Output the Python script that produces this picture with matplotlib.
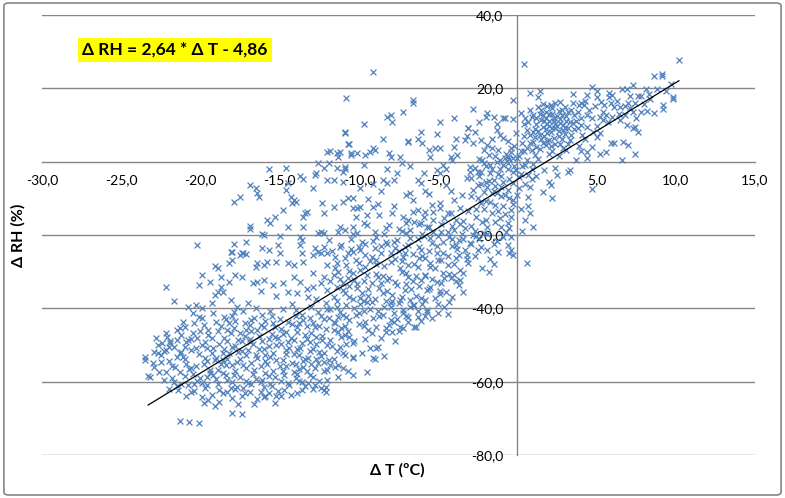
import numpy as np
import matplotlib
matplotlib.use("Agg")
import matplotlib.pyplot as plt
from matplotlib.patches import FancyBboxPatch

plt.rcParams['font.family'] = ['Lato', 'DejaVu Sans']

# trend line from the chart label
slope = 2.64
intercept = -4.86
trend_range = [-23.3, 10.2]

# points (delta T, delta RH), by region
pts_low_left = [
    (-23.5, -54.1), (-23.5, -53.3), (-23.3, -58.5), (-22.9, -51.9), (-22.7, -52.2), (-22.7, -50.0),
    (-22.4, -49.5), (-22.1, -47.8), (-22.2, -51.4), (-22.9, -56.0), (-22.6, -57.4), (-22.2, -57.4),
    (-21.7, -50.5), (-21.5, -53.3), (-21.6, -56.0), (-21.3, -52.2), (-21.1, -53.3), (-21.5, -46.0),
    (-21.3, -45.3), (-21.1, -43.7), (-22.2, -34.3), (-21.7, -38.1), (-23.2, -58.7), (-22.2, -46.8),
    (-21.9, -49.5), (-21.4, -62.3), (-21.3, -70.8), (-23.0, -55.0), (-22.5, -54.5), (-21.8, -59.0),
    (-21.2, -60.5), (-22.0, -62.0), (-21.5, -48.5), (-22.8, -48.0),
    (-20.8, -39.6), (-20.3, -39.1), (-19.9, -40.0), (-20.5, -41.3), (-19.9, -42.7), (-19.3, -38.6),
    (-19.1, -36.4), (-18.6, -35.5), (-18.1, -37.7), (-20.1, -33.7), (-19.4, -32.8), (-18.9, -35.5),
    (-18.7, -34.3), (-19.9, -30.9), (-19.1, -28.5), (-18.9, -29.0), (-18.7, -31.4), (-18.2, -32.8),
    (-18.2, -27.7), (-18.0, -26.8), (-18.1, -24.6), (-20.2, -22.7),
    (-20.8, -48.6), (-21.0, -50.5), (-20.5, -46.8), (-20.6, -51.4), (-20.1, -71.3), (-19.8, -65.8),
    (-18.8, -65.5), (-18.0, -68.5), (-20.7, -71.0),
    (-19.8, -44.5), (-19.5, -47.2), (-19.2, -50.8), (-18.9, -46.1), (-18.6, -52.3), (-18.3, -48.9),
    (-19.7, -53.6), (-19.4, -56.9), (-19.0, -59.4), (-18.7, -55.2), (-18.4, -58.1), (-18.1, -61.7),
    (-19.6, -61.0), (-19.3, -63.5), (-18.8, -62.4), (-20.3, -55.8), (-20.0, -58.9), (-20.4, -60.7),
    (-20.6, -62.9), (-19.9, -50.1), (-18.2, -44.0), (-18.5, -42.3), (-20.2, -48.0), (-19.1, -54.0),
    (-18.0, -50.6), (-18.3, -53.9), (-20.7, -56.6), (-19.5, -65.0),
]

pts_mid_left = [
    (-17.7, -39.6), (-17.9, -41.0), (-17.4, -31.4), (-17.8, -30.9), (-17.5, -25.5), (-17.3, -25.0),
    (-17.1, -25.2), (-16.5, -28.7), (-16.4, -27.7), (-16.0, -28.2), (-16.7, -33.1), (-16.4, -32.8),
    (-16.0, -32.3), (-15.8, -27.4), (-15.2, -27.4), (-15.0, -25.0), (-17.9, -22.4), (-18.0, -24.6),
    (-17.4, -24.9), (-17.1, -21.9), (-16.1, -23.5), (-15.7, -24.1), (-15.1, -22.7), (-16.9, -17.6),
    (-16.9, -18.4), (-16.0, -20.0), (-16.1, -19.7), (-15.0, -20.3), (-17.9, -11.0), (-17.5, -9.6),
    (-16.9, -6.4), (-16.5, -7.2), (-16.3, -9.6), (-16.4, -8.6), (-15.8, -15.9), (-15.6, -16.8),
    (-15.3, -15.1), (-15.7, -2.0),
    (-17.8, -43.5), (-17.5, -46.8), (-17.2, -44.1), (-16.9, -49.3), (-16.6, -42.7), (-16.3, -47.5),
    (-16.0, -45.0), (-15.7, -50.2), (-15.4, -43.9), (-15.1, -48.1), (-17.6, -52.0), (-17.3, -55.4),
    (-17.0, -51.3), (-16.7, -57.8), (-16.4, -53.5), (-16.1, -59.6), (-15.8, -55.1), (-15.5, -61.3),
    (-15.2, -54.2), (-17.9, -58.3), (-17.7, -61.4), (-17.2, -63.1), (-16.8, -60.5), (-16.2, -62.7),
    (-15.9, -64.0), (-15.3, -58.8), (-17.4, -49.0), (-16.5, -39.8), (-15.6, -40.6), (-17.0, -38.5),
    (-16.0, -64.2), (-15.3, -65.8), (-17.4, -68.8), (-16.6, -66.0), (-15.9, -52.7), (-16.8, -46.2),
    (-15.5, -47.0), (-17.1, -59.9), (-15.2, -36.5), (-16.2, -35.2), (-15.4, -33.7),
    (-14.6, -1.7), (-13.7, -3.9), (-13.5, -4.7), (-14.5, -5.8), (-14.6, -7.7), (-12.9, -7.2),
    (-14.3, -9.6), (-14.1, -10.5), (-14.2, -11.3), (-14.0, -11.0), (-14.8, -13.1), (-13.4, -14.0),
    (-13.5, -15.1), (-13.3, -13.7), (-14.5, -17.9), (-13.5, -17.9), (-12.3, -11.3), (-12.2, -14.0),
    (-12.6, -0.3), (-12.2, -1.7), (-12.8, -3.6), (-12.7, -3.1), (-12.0, -5.0), (-12.6, -19.5),
    (-12.4, -19.2), (-12.2, -19.5), (-13.7, -20.5), (-13.6, -21.3), (-13.7, -22.7), (-13.6, -24.9),
    (-12.8, -23.5), (-12.6, -24.6), (-12.2, -23.3), (-12.0, -24.9), (-13.5, -27.4), (-14.5, -27.7),
    (-14.1, -28.2), (-14.8, -33.1), (-13.7, -32.8), (-12.9, -25.5), (-12.4, -25.0), (-12.9, -30.4),
    (-12.2, -31.4), (-13.3, -34.6), (-14.5, -35.5), (-13.9, -35.8), (-12.9, -34.3), (-12.4, -33.1),
    (-12.0, -35.0), (-12.1, -38.6), (-14.1, -31.4),
    (-14.8, -40.2), (-14.5, -43.6), (-14.2, -38.9), (-13.9, -46.5), (-13.6, -41.7), (-13.3, -44.8),
    (-13.0, -39.5), (-12.7, -47.9), (-12.4, -42.2), (-12.1, -45.6), (-14.9, -49.8), (-14.6, -52.5),
    (-14.3, -48.0), (-14.0, -55.2), (-13.7, -50.9), (-13.4, -53.7), (-13.1, -49.2), (-12.8, -56.4),
    (-12.5, -51.8), (-12.2, -54.6), (-14.7, -58.1), (-14.4, -61.0), (-14.1, -57.3), (-13.8, -59.8),
    (-13.5, -56.0), (-13.2, -60.4), (-12.9, -58.6), (-12.6, -55.0), (-13.6, -62.3), (-12.4, -61.7),
    (-12.1, -62.8), (-14.9, -64.0), (-12.0, -40.3), (-13.2, -36.8), (-14.0, -42.0), (-12.7, -37.5),
    (-12.3, -48.7), (-13.9, -51.2), (-14.6, -46.4), (-12.9, -44.0), (-13.4, -47.3),
]

pts_middle = [
    (-10.8, 17.3), (-10.9, 8.1), (-10.6, 4.8), (-12.0, 2.6), (-11.8, 2.9), (-11.4, 2.4), (-11.3, 1.3),
    (-11.2, 2.6), (-10.5, 1.8), (-10.1, 2.4), (-10.7, 4.8), (-10.5, 2.4), (-9.6, 1.8), (-9.7, 10.3),
    (-10.9, 7.8), (-11.9, -0.3), (-11.4, -1.7), (-10.9, -1.5), (-11.0, -2.8), (-10.9, -2.0),
    (-9.7, -0.9), (-11.6, -5.0), (-11.0, -5.5), (-10.4, -9.9), (-10.1, -12.6), (-9.9, -12.3),
    (-9.1, -12.3), (-9.5, -14.6), (-9.7, -16.8), (-11.6, -12.3), (-11.0, -11.0), (-10.7, -9.9),
    (-10.4, -12.6), (-11.2, -17.9), (-10.9, -18.6), (-10.4, -17.9), (-10.1, -19.5), (-11.2, -23.3),
    (-10.7, -24.9), (-10.4, -24.6), (-9.9, -24.1), (-11.4, -27.7), (-12.0, -28.2), (-11.6, -30.9),
    (-11.4, -34.3), (-11.6, -36.9), (-11.4, -39.6), (-9.1, -6.0), (-9.3, 2.6), (-9.0, 3.2), (-9.1, 3.7),
    (-11.9, -21.5), (-11.5, -26.0), (-11.1, -22.8), (-10.8, -28.3), (-10.5, -21.0), (-10.2, -26.9),
    (-9.9, -29.5), (-9.6, -22.4), (-9.3, -27.1), (-11.8, -32.6), (-11.3, -30.2), (-11.0, -35.1),
    (-10.7, -31.8), (-10.4, -37.5), (-10.1, -33.3), (-9.8, -35.9), (-9.5, -31.0), (-9.2, -38.2),
    (-11.9, -42.5), (-11.6, -45.8), (-11.2, -41.0), (-10.9, -47.3), (-10.6, -43.1), (-10.3, -48.8),
    (-10.0, -44.4), (-9.7, -40.7), (-9.4, -46.0), (-11.7, -50.3), (-11.3, -55.4), (-11.0, -52.1),
    (-10.7, -57.0), (-10.4, -49.5), (-10.4, -53.3), (-10.4, -53.6), (-10.4, -58.2), (-11.0, -56.3),
    (-11.3, -58.7), (-11.8, -55.4), (-12.0, -59.6), (-12.2, -62.3), (-12.1, -61.5), (-9.8, -52.2),
    (-9.5, -57.4), (-9.3, -50.8), (-9.1, -53.6), (-8.8, -50.5), (-9.0, -53.8), (-8.9, -50.8),
    (-9.6, -48.4), (-9.2, -46.8), (-11.5, -44.0), (-10.8, -39.2), (-10.2, -41.9), (-9.6, -43.6),
    (-11.1, -47.9), (-9.9, -38.8), (-11.7, -24.4), (-10.6, -33.9), (-9.4, -34.7), (-10.0, -23.2),
    (-11.3, -19.2),
    (-9.1, 24.4), (-8.0, 12.7), (-8.2, 12.2), (-7.9, 10.8), (-7.2, 13.5), (-6.6, 16.8), (-6.6, 15.9),
    (-8.5, 6.2), (-6.1, 8.1), (-6.3, 6.2), (-6.0, 5.1), (-6.9, 5.6), (-6.9, 5.4), (-8.1, 2.4),
    (-8.0, 1.3), (-8.2, -2.0), (-7.4, 1.3), (-7.3, -0.3), (-8.5, -5.0), (-7.8, -5.0), (-6.3, -5.0),
    (-6.1, -5.8), (-6.8, -8.6), (-6.6, -10.5), (-7.2, -15.1), (-6.9, -15.9), (-6.6, -13.7),
    (-8.6, -8.0), (-7.6, -3.1), (-8.8, -11.5), (-7.9, -14.0), (-8.3, -18.0), (-7.0, -19.5),
    (-6.2, -17.0),
    (-8.9, -20.5), (-8.6, -24.8), (-8.3, -21.9), (-8.0, -27.4), (-7.7, -23.6), (-7.4, -29.1),
    (-7.1, -25.0), (-6.8, -20.7), (-6.5, -27.8), (-6.2, -23.3), (-8.8, -31.5), (-8.5, -35.8),
    (-8.2, -32.2), (-7.9, -38.0), (-7.6, -33.6), (-7.3, -36.9), (-7.0, -30.4), (-6.7, -34.8),
    (-6.4, -31.1), (-6.1, -37.3), (-8.7, -42.1), (-8.4, -39.7), (-8.1, -44.6), (-7.8, -41.3),
    (-7.5, -46.2), (-7.2, -40.5), (-6.9, -43.8), (-6.6, -39.0), (-6.3, -42.4), (-8.3, -45.4),
    (-7.4, -45.1), (-6.4, -45.1), (-7.4, -37.8), (-8.0, -39.6), (-7.9, -46.5), (-8.3, -46.5),
    (-6.5, -45.1), (-6.9, -42.4), (-7.2, -45.4), (-8.6, -48.2), (-8.0, -43.2), (-6.8, -39.6),
    (-6.3, -28.7), (-6.1, -32.3), (-7.7, -49.0), (-8.4, -53.0), (-6.0, -25.6), (-8.9, -28.0),
    (-7.5, -18.3),
    (-4.9, 10.8), (-4.0, 11.9), (-5.1, 7.5), (-5.2, 3.7), (-4.9, 3.7), (-3.9, 6.2), (-3.3, 5.9),
    (-4.0, 4.0), (-5.6, 3.2), (-5.5, 1.3), (-4.2, 1.3), (-4.1, 0.5), (-4.7, -0.9), (-5.1, -2.3),
    (-4.9, -3.1), (-3.0, -1.5), (-3.0, -2.8), (-5.3, -13.7), (-4.9, -12.6), (-5.4, -11.8),
    (-5.9, -15.1), (-6.1, -16.8), (-5.7, -17.9), (-4.0, -10.4), (-4.2, -14.0), (-3.9, -15.9),
    (-3.1, 9.2), (-3.2, 7.0), (-4.5, -6.5), (-5.8, -8.0), (-3.5, -9.0),
    (-5.9, -20.2), (-5.6, -24.5), (-5.3, -19.1), (-5.0, -26.7), (-4.7, -21.8), (-4.4, -28.2),
    (-4.1, -17.6), (-3.8, -23.9), (-3.5, -19.8), (-3.2, -25.4), (-5.8, -30.8), (-5.5, -34.3),
    (-5.2, -29.0), (-4.9, -36.1), (-4.6, -31.7), (-4.3, -38.4), (-4.0, -30.9), (-3.7, -33.5),
    (-3.4, -30.4), (-3.1, -27.6), (-5.7, -41.0), (-5.7, -35.0), (-4.5, -35.5), (-4.2, -31.7),
    (-3.4, -35.5), (-3.7, -21.3), (-3.0, -22.2), (-5.8, -37.8), (-5.0, -41.3), (-5.8, -42.0),
    (-5.3, -16.0), (-4.6, -15.3), (-3.9, -26.2), (-3.3, -18.0), (-5.5, -27.5), (-4.8, -33.2),
    (-4.1, -23.0), (-3.6, -29.5), (-5.1, -22.9), (-4.3, -20.5),
]

pts_upper_right = [
    (-2.8, 14.3), (-1.9, 13.3), (-1.5, 12.2), (-2.0, 12.2), (-0.8, 11.9), (-0.3, 11.6), (-0.9, 11.9),
    (-2.8, 5.1), (-2.7, 8.1), (-3.1, 9.2), (-1.9, 4.5), (-1.6, 3.7), (-2.1, 3.2), (-1.3, 8.6),
    (-1.1, 7.3), (-1.1, 0.5), (-0.6, -0.3), (-0.25, 1.0), (-0.4, 2.6), (-2.5, -2.8), (-2.3, -2.8),
    (-2.1, -0.3), (-1.7, -0.9), (-0.25, 16.8), (-2.8, -7.7), (-2.5, -9.9), (-2.3, -11.3),
    (-1.9, -6.9), (-1.3, -8.6), (-1.5, -5.0), (-0.6, -7.7), (-0.25, -10.4), (-0.4, -13.1),
    (-0.6, -16.8), (-0.4, -24.1), (-0.25, -25.5), (-2.3, -23.3), (-1.9, -24.1), (-1.5, -27.9),
    (-1.7, -26.6), (-0.6, -22.7), (-0.5, -24.9), (-2.5, -24.1),
    (-2.9, -4.5), (-2.6, -13.0), (-2.3, -6.0), (-2.0, -15.8), (-1.7, -3.2), (-1.4, -11.7),
    (-1.1, -2.0), (-0.8, -14.4), (-0.5, -4.8), (-0.2, -1.2), (-2.9, -17.5), (-2.6, -20.3),
    (-2.2, -16.4), (-1.9, -19.7), (-1.6, -14.0), (-1.3, -21.6), (-1.0, -17.9), (-0.7, -19.1),
    (-0.4, -20.5), (-2.7, -25.8), (-2.2, -28.9), (-1.8, -30.2), (-1.2, -24.7), (-0.9, -12.1),
    (-0.3, -2.9), (-0.7, 2.2), (-1.4, 1.5), (-2.4, 0.8), (-0.2, 4.3), (-0.6, 5.6), (-1.0, -9.5),
    (-2.0, -10.6), (-2.7, -18.8), (-1.5, -8.0), (-0.9, -5.6),
    (0.4, 26.6), (1.4, 19.3), (0.8, 18.7), (1.3, 17.6), (2.7, 16.3), (2.4, 15.9), (2.1, 15.4),
    (1.9, 15.2), (0.8, 14.1), (0.2, 13.3), (1.5, 14.1), (0.5, 11.9), (2.5, -3.6), (2.4, -1.8),
    (2.0, -5.5), (2.1, -6.3), (0.8, -6.9), (0.7, -9.6), (2.2, -9.9), (0.5, -15.9), (1.0, -17.9),
    (0.8, -14.0),
    (0.1, 1.5), (0.3, 5.2), (0.6, 8.7), (0.9, 3.1), (1.2, 10.4), (1.5, 6.3), (1.8, 12.0), (2.1, 4.2),
    (2.4, 9.1), (2.7, 11.6), (3.0, 7.5), (0.2, -3.5), (0.5, -1.0), (0.9, -4.8), (1.3, 0.6),
    (1.7, -2.4), (2.0, 2.0), (2.6, 1.5), (2.9, 3.8), (0.4, 10.3), (1.0, 12.6), (1.6, 9.5),
    (2.2, 13.1), (2.8, 14.2), (1.1, 6.8), (1.9, 7.8), (0.7, -12.0), (1.6, -8.3), (0.3, -19.0),
    (0.6, -27.5), (1.2, -4.0), (2.3, 6.5), (0.0, -9.0), (1.7, 11.0), (2.0, 9.8), (2.5, 12.4),
    (2.9, 10.0), (3.2, 9.3), (1.4, 13.0), (2.6, 7.0), (1.9, 5.5), (2.3, 11.2),
    (3.5, 18.4), (5.8, 18.7), (5.8, 17.6), (5.0, 17.6), (4.4, 18.2), (4.7, 20.3), (4.0, 15.9),
    (4.2, 15.4), (6.1, 14.9), (4.7, 11.9), (5.2, 12.2), (5.4, 11.4), (5.7, 10.8), (3.5, 10.5),
    (4.0, 10.0), (4.4, 9.5), (4.8, 8.1), (5.2, 7.8), (5.0, 6.8), (5.9, 5.1), (3.7, 0.5), (4.4, 1.0),
    (5.2, 2.1), (5.6, 2.6), (4.7, 4.0), (4.4, 2.6), (3.2, -2.8), (3.3, -2.3), (4.7, -7.5),
    (3.1, 12.5), (3.8, 13.6), (4.5, 14.0), (5.5, 15.5), (3.3, 6.0), (3.9, 4.3), (4.1, 7.2),
    (3.6, 8.8), (5.4, 13.5),
    (10.2, 27.7), (8.6, 23.3), (9.1, 23.9), (9.1, 23.3), (9.7, 21.2), (7.3, 20.9), (6.6, 19.8),
    (6.9, 19.8), (8.1, 19.8), (7.6, 17.9), (7.8, 17.9), (9.8, 17.1), (9.8, 17.6), (7.1, 17.9),
    (6.8, 15.2), (9.2, 14.3), (9.2, 15.4), (8.6, 13.3), (7.8, 13.5), (7.3, 13.5), (6.5, 11.4),
    (6.9, 10.0), (7.3, 9.2), (7.6, 8.1), (7.4, 9.5), (6.7, 5.4), (7.0, 4.6), (7.4, 2.1), (6.6, 0.5),
    (6.1, 5.1), (6.3, 16.5), (7.0, 16.0), (8.4, 17.0), (6.4, 13.0), (8.0, 15.8),
]

# the thick parts of the cloud
pts_dense = [
    (-19.2, -41.3), (-17.3, -40.8), (-16.1, -41.9), (-14.0, -40.5), (-13.1, -42.6), (-12.6, -41.1),
    (-11.8, -40.1), (-11.0, -41.8), (-18.4, -42.9), (-15.5, -42.2),
    (-20.4, -44.1), (-19.0, -43.6), (-17.9, -45.3), (-16.9, -44.6), (-15.9, -43.4), (-14.9, -45.7),
    (-14.2, -44.3), (-13.5, -43.3), (-12.8, -45.1), (-11.6, -43.8), (-10.9, -44.9), (-18.7, -44.9),
    (-21.2, -47.2), (-20.0, -46.3), (-19.3, -48.0), (-18.1, -46.6), (-17.2, -47.6), (-16.4, -46.0),
    (-15.7, -48.3), (-14.8, -47.0), (-14.1, -48.6), (-13.0, -46.8), (-12.3, -47.5), (-11.3, -46.4),
    (-10.6, -47.8), (-16.9, -48.4),
    (-22.0, -50.6), (-20.9, -49.2), (-19.6, -50.9), (-18.8, -49.6), (-17.8, -50.3), (-16.7, -49.8),
    (-16.0, -51.2), (-15.2, -49.9), (-14.4, -50.7), (-13.6, -49.4), (-12.9, -51.0), (-12.0, -50.1),
    (-11.4, -51.5), (-10.8, -49.7), (-17.4, -51.6),
    (-22.5, -52.8), (-21.0, -53.8), (-20.1, -52.4), (-19.0, -53.5), (-18.2, -52.2), (-17.5, -53.9),
    (-16.5, -52.6), (-15.6, -53.2), (-14.8, -54.0), (-14.1, -52.4), (-13.2, -53.5), (-12.4, -52.9),
    (-11.6, -53.8), (-10.9, -52.7), (-18.6, -54.2),
    (-21.8, -55.7), (-20.6, -56.4), (-19.8, -55.1), (-18.9, -56.8), (-18.0, -55.4), (-17.1, -56.2),
    (-16.2, -55.7), (-15.4, -57.0), (-14.6, -55.6), (-13.8, -56.6), (-13.0, -55.3), (-12.2, -57.1),
    (-11.5, -56.0), (-19.4, -57.5),
    (-22.3, -59.6), (-21.0, -58.5), (-20.2, -59.9), (-19.2, -58.3), (-18.3, -59.5), (-17.5, -58.7),
    (-16.5, -59.3), (-15.7, -58.4), (-14.9, -59.9), (-14.0, -59.0), (-13.1, -58.2), (-12.5, -59.7),
    (-17.0, -60.4),
    (-21.5, -61.3), (-20.4, -62.6), (-19.7, -61.8), (-18.6, -63.1), (-17.8, -62.0), (-16.9, -62.9),
    (-16.0, -61.4), (-15.1, -62.5), (-14.3, -63.5), (-13.4, -61.2), (-18.0, -64.4), (-16.4, -64.8),
    (-19.1, -66.7), (-17.6, -66.2),
    (-6.5, -16.4), (-5.6, -17.8), (-4.8, -16.9), (-4.0, -18.7), (-3.4, -16.2), (-7.3, -19.0),
    (-6.0, -19.8), (-5.0, -20.4), (-4.4, -19.3), (-3.6, -17.1), (-8.1, -17.3), (-9.0, -19.2),
    (-9.8, -22.0), (-9.0, -23.6), (-8.2, -22.4), (-7.5, -24.5), (-6.9, -22.7), (-6.1, -24.2),
    (-5.4, -22.2), (-4.7, -24.9), (-3.9, -22.6), (-3.3, -24.0), (-8.6, -23.0), (-10.5, -23.9),
    (-7.1, -23.4),
    (-10.9, -26.4), (-10.0, -27.6), (-9.2, -26.1), (-8.4, -28.4), (-7.7, -26.5), (-6.9, -28.1),
    (-6.2, -26.2), (-5.5, -28.8), (-4.8, -26.9), (-4.0, -28.0), (-3.2, -26.6), (-9.6, -28.8),
    (-7.3, -27.2),
    (-11.2, -31.9), (-10.4, -30.4), (-9.7, -32.6), (-8.9, -30.7), (-8.1, -31.8), (-7.3, -30.2),
    (-6.6, -32.6), (-5.8, -31.3), (-5.1, -32.9), (-4.3, -30.7), (-3.6, -32.2), (-6.9, -31.5),
    (-8.6, -33.0),
    (-10.9, -35.8), (-10.1, -34.5), (-9.4, -36.7), (-8.7, -34.4), (-7.9, -36.3), (-7.1, -34.9),
    (-6.4, -36.5), (-5.6, -34.6), (-4.9, -35.2), (-4.1, -36.8), (-8.2, -35.3), (-9.9, -37.1),
    (-10.3, -39.9), (-9.5, -38.4), (-8.8, -40.6), (-8.0, -38.5), (-7.2, -41.2), (-6.5, -39.1),
    (-5.7, -40.4), (-5.0, -38.7), (-9.1, -42.5), (-7.6, -42.8), (-6.1, -43.5), (-4.4, -41.5),
    (-10.2, -15.0), (-9.4, -10.2), (-8.7, -14.6), (-7.8, -12.0), (-7.0, -9.0), (-6.3, -13.1),
    (-5.6, -8.7), (-4.9, -11.2), (-4.2, -7.9), (-3.6, -12.6), (-3.2, -4.5), (-9.9, -7.2),
    (-8.2, -5.8), (-5.9, -3.2), (-4.5, -2.0), (-3.8, 1.8), (-6.8, -1.2), (-7.8, -22.0),
    (-2.9, -9.5), (-2.5, -6.5), (-2.1, -8.3), (-1.8, -5.4), (-1.4, -6.7), (-1.0, -4.0), (-0.6, -2.0),
    (-0.3, -5.9), (0.1, -4.2), (0.5, -6.1), (0.9, -1.9), (-2.7, -1.6), (-2.2, 0.5), (-1.8, 1.9),
    (-1.2, 3.2), (-0.8, 0.9), (-0.4, 3.6), (0.2, 2.8), (0.6, 0.4), (1.0, -0.6), (-2.6, -15.0),
    (-2.1, -12.8), (-1.7, -10.9), (-1.2, -13.5), (-0.8, -9.2), (-0.3, -11.6), (0.2, -12.8),
    (-1.9, -17.8), (-1.1, -15.5), (-0.5, -18.2), (-2.4, -21.0), (-1.5, -22.5), (-2.9, -22.5),
    (-1.6, 6.2), (-2.3, 5.8), (-0.9, 6.5), (-0.1, 7.8), (0.4, 6.9), (-1.3, 10.2), (-2.4, 10.8),
    (0.6, 3.6), (1.0, 5.4), (1.4, 3.5), (1.8, 4.6), (2.2, 2.9), (2.7, 4.9), (3.1, 3.1), (0.8, 7.3),
    (1.3, 8.4), (1.7, 6.9), (2.1, 8.0), (2.5, 9.7), (2.9, 8.6), (3.4, 7.3), (0.7, 10.9), (1.1, 9.0),
    (1.5, 11.4), (1.9, 10.2), (2.3, 11.9), (2.7, 10.6), (3.1, 11.2), (3.6, 12.6), (4.0, 11.8),
    (4.4, 12.8), (0.9, 12.1), (1.3, 14.8), (1.8, 13.5), (2.2, 14.6), (2.6, 13.8), (3.0, 15.0),
    (3.4, 14.0), (3.9, 15.5), (4.3, 16.6), (4.9, 15.1), (5.3, 16.3), (5.9, 16.0), (6.5, 15.0),
    (3.8, 9.1), (4.3, 6.2), (5.0, 9.8), (5.6, 12.8), (6.0, 12.2), (6.8, 12.6), (7.5, 11.8),
    (8.2, 13.8), (7.1, 14.5), (3.2, 4.8), (4.0, 2.9),
    (8.8, 19.9), (8.3, 18.4), (9.4, 19.2), (7.4, 16.0), (6.0, 18.2), (5.0, 19.2),
]

# second pass over the thickest parts
pts_dense2 = [
    (-20.1, -42.4), (-18.0, -42.0), (-16.8, -43.1), (-15.0, -42.8), (-13.8, -43.9), (-12.2, -43.0),
    (-11.3, -42.3),
    (-21.0, -45.2), (-19.5, -45.8), (-18.3, -45.9), (-17.1, -45.8), (-16.2, -44.6), (-15.3, -45.2),
    (-13.9, -45.0), (-12.5, -44.7), (-11.1, -45.4),
    (-21.9, -48.8), (-20.6, -48.3), (-19.7, -49.3), (-18.5, -48.1), (-17.6, -48.7), (-16.1, -48.9),
    (-15.3, -47.7), (-14.5, -49.1), (-13.3, -48.4), (-12.7, -49.6), (-11.8, -48.6), (-10.7, -46.2),
    (-22.3, -51.6), (-21.2, -51.8), (-20.3, -50.8), (-19.3, -52.2), (-18.5, -51.2), (-17.1, -52.6),
    (-16.3, -51.0), (-15.4, -52.3), (-14.6, -51.4), (-13.8, -52.7), (-13.1, -51.5), (-12.2, -52.3),
    (-11.2, -50.6),
    (-22.0, -54.3), (-20.9, -55.1), (-19.6, -54.3), (-18.4, -55.5), (-17.7, -54.6), (-16.8, -55.0),
    (-15.9, -54.3), (-15.0, -55.8), (-14.2, -54.8), (-13.5, -54.4), (-12.7, -53.7), (-11.9, -54.0),
    (-21.3, -57.3), (-20.5, -58.0), (-19.6, -58.8), (-18.6, -57.6), (-17.8, -57.1), (-16.6, -56.9),
    (-15.9, -57.6), (-14.8, -57.2), (-13.9, -57.8), (-13.3, -57.0), (-12.0, -56.9),
    (-21.7, -60.1), (-20.8, -60.9), (-19.9, -60.4), (-18.9, -60.7), (-18.0, -60.0), (-17.3, -61.6),
    (-16.2, -60.1), (-15.6, -60.7), (-14.5, -60.3), (-13.6, -60.0), (-12.8, -60.9),
    (-20.9, -63.8), (-19.9, -64.1), (-18.3, -62.8), (-17.4, -64.0), (-15.7, -63.1), (-14.7, -62.3),
    (-13.9, -63.0), (-12.9, -62.0), (-15.2, -63.9),
    (-11.5, -29.0), (-10.6, -29.7), (-9.6, -25.5), (-8.9, -26.9), (-8.0, -24.9), (-7.2, -26.0),
    (-6.6, -25.2), (-5.8, -26.4), (-5.1, -25.0), (-4.4, -25.7), (-3.7, -25.5),
    (-11.0, -33.2), (-10.3, -32.3), (-9.2, -33.1), (-8.5, -31.2), (-7.7, -32.9), (-7.0, -33.3),
    (-6.2, -33.8), (-5.4, -32.0), (-4.7, -30.3), (-3.9, -32.6),
    (-11.4, -37.9), (-10.6, -37.0), (-9.7, -38.0), (-9.0, -37.4), (-8.3, -38.1), (-7.5, -38.6),
    (-6.8, -37.6), (-6.0, -38.9), (-5.2, -37.2), (-4.6, -39.6),
    (-10.8, -42.3), (-10.0, -41.4), (-9.3, -40.2), (-8.5, -41.8), (-7.8, -43.8), (-7.0, -42.1),
    (-6.3, -40.8), (-5.4, -42.7), (-9.7, -44.8), (-8.9, -45.1),
    (-9.1, -21.6), (-8.4, -19.8), (-7.6, -21.5), (-6.8, -18.7), (-6.3, -21.0), (-5.5, -20.8),
    (-4.8, -19.1), (-4.1, -21.2), (-3.4, -21.0), (-2.8, -19.9),
    (-10.4, -19.6), (-9.5, -17.2), (-7.0, -16.6), (-5.8, -13.6), (-4.4, -14.1), (-3.1, -13.5),
    (-2.4, -4.0), (-2.0, -5.6), (-1.6, -2.1), (-1.2, -3.5), (-0.9, -0.8), (-0.5, 0.6), (-0.1, -2.4),
    (0.3, -1.2), (0.7, -3.6), (1.1, 1.8), (-2.0, -1.2), (-1.3, -0.2), (-0.6, 1.4), (0.0, 0.9),
    (0.4, 3.0), (-1.6, -8.6), (-1.0, -7.0), (-0.5, -9.8), (0.1, -7.1),
    (-0.4, -15.1), (-1.4, -16.5), (-0.9, -20.5), (-2.1, -19.4),
    (0.8, 5.2), (1.2, 4.1), (1.6, 5.0), (2.0, 6.0), (2.4, 4.7), (2.8, 6.2), (1.0, 8.0), (1.4, 7.2),
    (1.8, 8.9), (2.2, 9.3), (2.6, 8.4), (3.0, 9.1), (1.2, 11.8), (1.6, 12.6), (2.0, 11.1),
    (2.4, 10.4), (2.8, 12.8), (3.3, 10.8), (3.7, 11.0), (1.6, 15.6), (2.0, 13.0), (3.2, 13.5),
    (3.5, 15.9),
]

x_ticks = [-30, -25, -20, -15, -10, -5, 5, 10, 15]
y_ticks = [-80, -60, -40, -20, 20, 40]
blue = '#4F81BD'
grey = '#868686'

all_pts = pts_low_left + pts_mid_left + pts_middle + pts_upper_right + pts_dense + pts_dense2
delta_t = np.array([p[0] for p in all_pts])
delta_rh = np.array([p[1] for p in all_pts])

fig = plt.figure(figsize=(7.85, 4.98), dpi=100)
border = FancyBboxPatch((0.005, 0.006), 0.99, 0.988, boxstyle="round,pad=0,rounding_size=0.006",
                        transform=fig.transFigure, facecolor='none', edgecolor=grey, lw=1.2, zorder=-1)
fig.patches.append(border)

ax = fig.add_axes([42 / 785, 43 / 498, 713 / 785, 440 / 498])
ax.patch.set_alpha(0)
ax.set_xlim(-30, 15)
ax.set_ylim(-80, 40)
ax.set_axisbelow(True)

ax.spines['top'].set_visible(False)
ax.spines['right'].set_visible(False)
ax.spines['left'].set_position(('data', 0))
ax.spines['bottom'].set_position(('data', 0))
for s in ['left', 'bottom']:
    ax.spines[s].set_color(grey)
    ax.spines[s].set_linewidth(1.0)

ax.yaxis.grid(True, color=grey, lw=1.0)
ax.set_xticks(x_ticks)
ax.set_yticks(y_ticks)
ax.set_xticklabels([f"{v:.1f}".replace('.', ',') for v in x_ticks])
ax.set_yticklabels([f"{v:.1f}".replace('.', ',') for v in y_ticks])
ax.tick_params(axis='x', length=0, pad=9, labelsize=10)
ax.tick_params(axis='y', length=0, pad=10, labelsize=10)

ax.scatter(delta_t, delta_rh, marker='x', s=18, color=blue, linewidths=0.9, zorder=3)

tx = np.array(trend_range)
ax.plot(tx, slope * tx + intercept, color='black', lw=0.9, zorder=4)

fig.text(175 / 785, 1 - 50 / 498, "Δ RH = 2,64 * Δ T - 4,86", ha='center', va='center',
         fontsize=12.5, fontweight='bold',
         bbox=dict(facecolor='#FFFF00', edgecolor='none', pad=3))
fig.text(18 / 785, 1 - 235 / 498, "Δ RH (%)", rotation=90, ha='center', va='center',
         fontsize=11.5, fontweight='bold')
fig.text(397 / 785, 1 - 470 / 498, "Δ T (ºC)", ha='center', va='center',
         fontsize=11.5, fontweight='bold')

fig.savefig("out.png", dpi=100)
